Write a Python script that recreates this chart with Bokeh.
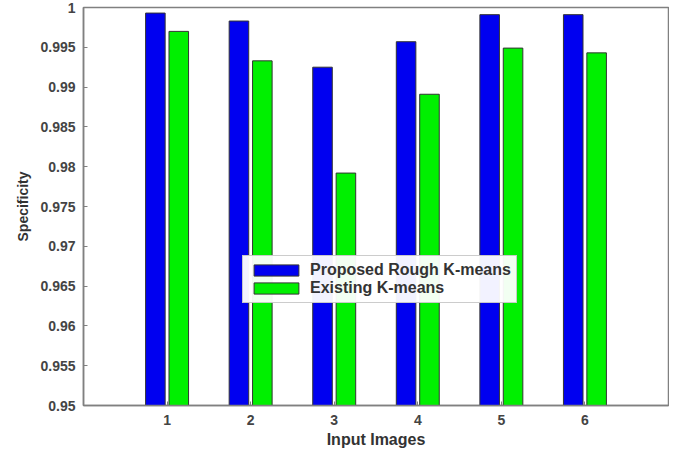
from bokeh.plotting import figure
from bokeh.models import ColumnDataSource, Range1d, FixedTicker, Legend, LegendItem
from bokeh.embed import file_html
from bokeh.resources import INLINE

images = [1, 2, 3, 4, 5, 6]
proposed = [0.9993, 0.9983, 0.9925, 0.9957, 0.9991, 0.9991]
existing = [0.9970, 0.9933, 0.9792, 0.9891, 0.9949, 0.9943]
y_ticks = [0.95, 0.955, 0.96, 0.965, 0.97, 0.975, 0.98, 0.985, 0.99, 0.995, 1.0]
y_labels = {0.95: "0.95", 0.955: "0.955", 0.96: "0.96", 0.965: "0.965", 0.97: "0.97",
            0.975: "0.975", 0.98: "0.98", 0.985: "0.985", 0.99: "0.99", 0.995: "0.995", 1.0: "1"}

offset = 0.14
bar_w = 0.234
src = ColumnDataSource(dict(
    xp=[i - offset for i in images],
    xe=[i + offset for i in images],
    proposed=proposed,
    existing=existing,
))

p = figure(width=669, height=452, output_backend="svg", toolbar_location=None,
           x_range=Range1d(0, 7), y_range=Range1d(0.95, 1.0),
           min_border_left=83, min_border_right=1, min_border_top=7, min_border_bottom=47)

r1 = p.vbar(x="xp", top="proposed", bottom=0.95, width=bar_w, source=src,
            fill_color="#0000F0", line_color="#333333", line_width=1)
r2 = p.vbar(x="xe", top="existing", bottom=0.95, width=bar_w, source=src,
            fill_color="#00F000", line_color="#333333", line_width=1)

p.xgrid.visible = False
p.ygrid.visible = False
p.outline_line_color = "#808080"
p.outline_line_width = 1.5

font = "Liberation Sans"
p.xaxis.ticker = FixedTicker(ticks=images)
p.yaxis.ticker = FixedTicker(ticks=y_ticks)
p.yaxis.major_label_overrides = y_labels
for ax in (p.xaxis[0], p.yaxis[0]):
    ax.axis_line_color = "#808080"
    ax.axis_line_width = 1.5
    ax.major_tick_in = 4
    ax.major_tick_out = 0
    ax.major_tick_line_color = "#808080"
    ax.minor_tick_line_color = None
    ax.major_label_text_font = font
    ax.major_label_text_font_size = "14px"
    ax.major_label_text_font_style = "bold"
    ax.major_label_text_color = "#444444"
    ax.axis_label_text_font = font
    ax.axis_label_text_font_style = "bold"
    ax.axis_label_text_color = "#333333"

p.xaxis.axis_label = "Input Images"
p.yaxis.axis_label = "Specificity"
p.xaxis.axis_label_text_font_size = "16px"
p.yaxis.axis_label_text_font_size = "14px"
p.xaxis.major_label_standoff = 9
p.xaxis.axis_label_standoff = 3
p.yaxis.major_label_standoff = 8
p.yaxis.axis_label_standoff = 6

legend = Legend(items=[LegendItem(label="Proposed Rough K-means", renderers=[r1]),
                       LegendItem(label="Existing K-means", renderers=[r2])],
                location=(159, 102))
legend.border_line_color = "#999999"
legend.label_text_font = font
legend.label_text_font_size = "16px"
legend.label_text_font_style = "bold"
legend.label_text_color = "#333333"
legend.glyph_width = 56
legend.glyph_height = 14
legend.spacing = 0
legend.padding = 5
legend.margin = 0
legend.label_standoff = 6
legend.label_height = 16
p.add_layout(legend, "center")

open("out.html", "w").write(file_html(p, INLINE))
